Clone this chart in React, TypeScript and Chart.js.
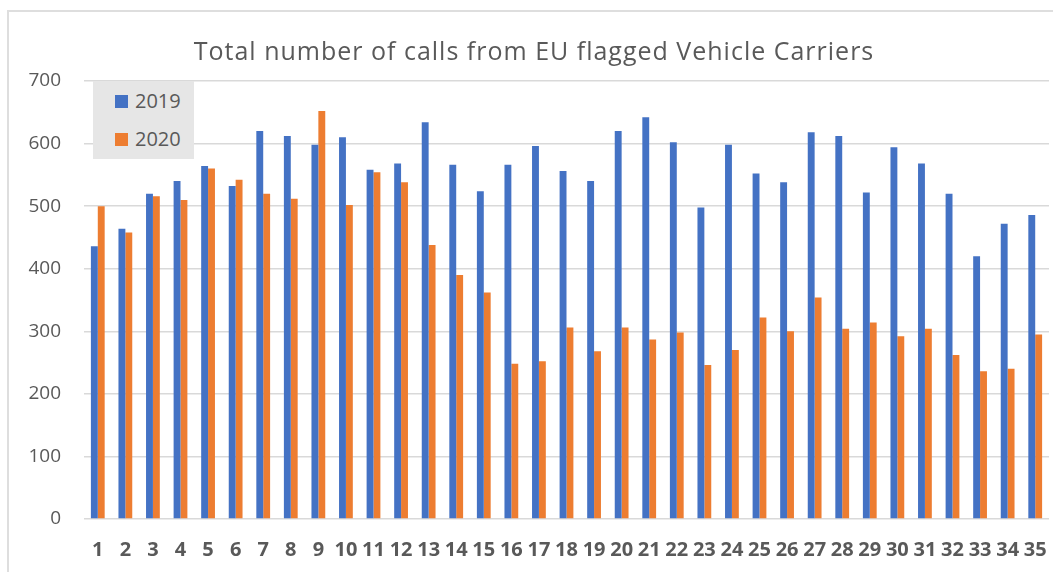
import React, { useEffect, useRef } from "react";
import { Chart, registerables } from "chart.js";

Chart.register(...registerables);

const titleText = "Total number of calls from EU flagged Vehicle Carriers";
const categories = [
  "1", "2", "3", "4", "5", "6", "7", "8", "9", "10",
  "11", "12", "13", "14", "15", "16", "17", "18", "19", "20",
  "21", "22", "23", "24", "25", "26", "27", "28", "29", "30",
  "31", "32", "33", "34", "35",
];
const seriesNames = ["2019", "2020"];
const values2019 = [
  436, 464, 520, 540, 564, 532, 620, 612, 598, 610,
  558, 568, 634, 566, 524, 566, 596, 556, 540, 620,
  642, 602, 498, 598, 552, 538, 618, 612, 522, 594,
  568, 520, 420, 472, 486,
];
const values2020 = [
  500, 458, 516, 510, 560, 542, 520, 512, 652, 502,
  554, 538, 438, 390, 362, 248, 252, 306, 268, 306,
  287, 298, 246, 270, 322, 300, 354, 304, 314, 292,
  304, 262, 236, 240, 295,
];
const yMin = 0;
const yMax = 700;
const yStep = 100;

const BLUE = "#4472C4";
const ORANGE = "#ED7D31";
const TEXT = "#595959";
const GRID = "#d9d9d9";
const FONT = "'Open Sans', sans-serif";

export default function App() {
  const canvasRef = useRef<HTMLCanvasElement | null>(null);

  useEffect(() => {
    const canvas = canvasRef.current;
    if (!canvas) return;
    const chart = new Chart(canvas, {
      type: "bar",
      data: {
        labels: categories,
        datasets: [
          {
            label: seriesNames[0],
            data: values2019,
            backgroundColor: BLUE,
            categoryPercentage: 0.5,
            barPercentage: 1.0,
          },
          {
            label: seriesNames[1],
            data: values2020,
            backgroundColor: ORANGE,
            categoryPercentage: 0.5,
            barPercentage: 1.0,
          },
        ],
      },
      options: {
        responsive: false,
        animation: false,
        layout: { padding: { top: 81, left: 0, right: 4, bottom: 0 } },
        plugins: {
          legend: { display: false },
          tooltip: { enabled: false },
          title: { display: false },
        },
        scales: {
          x: {
            grid: { display: false, drawTicks: false },
            border: { display: false },
            ticks: {
              color: TEXT,
              font: { family: FONT, size: 20, weight: "bold", lineHeight: "62px" },
              padding: 0,
              autoSkip: false,
              maxRotation: 0,
              minRotation: 0,
            },
            afterFit: (scale: any) => {
              scale.height = 53;
            },
          },
          y: {
            min: yMin,
            max: yMax,
            grid: { color: GRID, lineWidth: 1.5, drawTicks: false },
            border: { display: false },
            ticks: {
              stepSize: yStep,
              color: TEXT,
              font: { family: FONT, size: 19 },
              padding: 23,
            },
            afterFit: (scale: any) => {
              scale.width = 84;
            },
          },
        },
      },
    });
    return () => chart.destroy();
  }, []);

  const legendItem = (color: string, label: string, top: number) => (
    <div
      style={{
        position: "absolute",
        left: 22,
        top,
        height: 24,
        display: "flex",
        alignItems: "center",
      }}
    >
      <span style={{ width: 13, height: 13, background: color, display: "inline-block" }} />
      <span
        style={{
          marginLeft: 7,
          fontFamily: FONT,
          fontSize: 20,
          color: TEXT,
          lineHeight: "24px",
        }}
      >
        {label}
      </span>
    </div>
  );

  return (
    <div
      style={{
        position: "absolute",
        left: 0,
        top: 0,
        width: 1053,
        height: 572,
        background: "#ffffff",
        overflow: "hidden",
      }}
    >
      <div
        style={{
          position: "absolute",
          left: 7,
          top: 10,
          width: 1060,
          height: 600,
          borderTop: "2px solid #dedede",
          borderLeft: "2px solid #dedede",
          boxSizing: "border-box",
        }}
      />
      <canvas
        ref={canvasRef}
        width={1053}
        height={572}
        style={{ position: "absolute", left: 0, top: 0, width: 1053, height: 572 }}
      />
      <div
        style={{
          position: "absolute",
          left: 534,
          top: 35,
          transform: "translateX(-50%)",
          fontFamily: FONT,
          fontSize: 25,
          letterSpacing: "1px",
          lineHeight: "30px",
          color: TEXT,
          whiteSpace: "nowrap",
        }}
      >
        {titleText}
      </div>
      <div
        style={{
          position: "absolute",
          left: 93,
          top: 81,
          width: 101,
          height: 78,
          background: "#e6e6e6",
        }}
      >
        {legendItem(BLUE, seriesNames[0], 8)}
        {legendItem(ORANGE, seriesNames[1], 46)}
      </div>
    </div>
  );
}
